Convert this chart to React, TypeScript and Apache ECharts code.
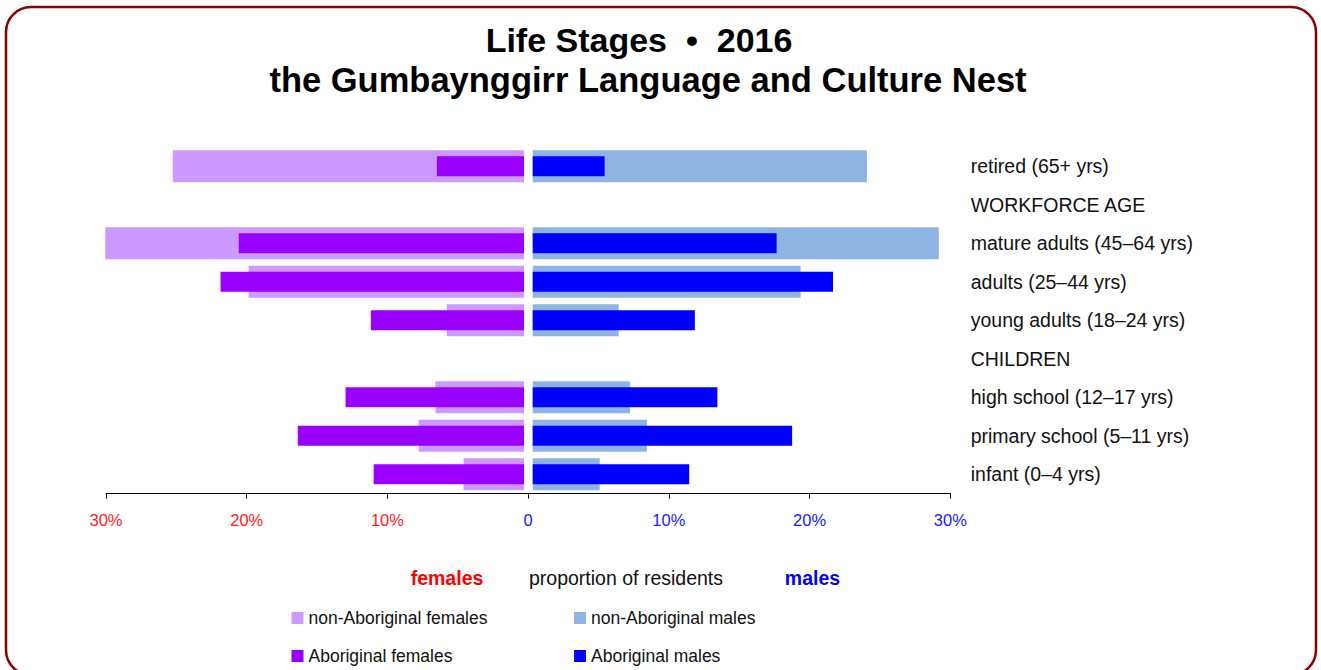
import React, { useEffect, useRef } from "react";
import * as echarts from "echarts";

const categories = [
  "retired (65+ yrs)",
  "WORKFORCE AGE",
  "mature adults (45–64 yrs)",
  "adults (25–44 yrs)",
  "young adults (18–24 yrs)",
  "CHILDREN",
  "high school (12–17 yrs)",
  "primary school (5–11 yrs)",
  "infant (0–4 yrs)",
];
const nonAbFemales = [25.0, null, 29.8, 19.6, 5.5, null, 6.3, 7.5, 4.3];
const abFemales = [6.2, null, 20.3, 21.6, 10.9, null, 12.7, 16.1, 10.7];
const nonAbMales = [23.7, null, 28.8, 19.0, 6.1, null, 6.9, 8.1, 4.75];
const abMales = [5.1, null, 17.3, 21.3, 11.5, null, 13.1, 18.4, 11.1];

const titleLines = ["Life Stages  •  2016", "the Gumbayngg\u200Birr Language and Culture Nest".replace("\u200B", "")];
const axisTitle = ["females", "proportion of residents", "males"];
const seriesNames = ["non-Aboriginal females", "Aboriginal females", "non-Aboriginal males", "Aboriginal males"];

const FONT = "'Liberation Sans', Arial, Helvetica, sans-serif";
const C_NAF = "#cc99ff";
const C_AF = "#9900ff";
const C_NAM = "#8eb4e3";
const C_AM = "#0000ff";

export default function App() {
  const ref = useRef<HTMLDivElement>(null);
  useEffect(() => {
    if (!ref.current) return;
    const chart = echarts.init(ref.current, undefined, { renderer: "svg" });
    const top = 147;
    const height = 346.5;
    const hiddenCat = (gridIndex: number) => ({
      type: "category",
      gridIndex,
      data: categories,
      inverse: true,
      axisLine: { show: false },
      axisTick: { show: false },
      axisLabel: { show: false },
      splitLine: { show: false },
    });
    const legendItem = (name: string, left: number, topPos: number) => ({
      left,
      top: topPos,
      padding: 0,
      orient: "horizontal",
      selectedMode: false,
      itemWidth: 12,
      itemHeight: 12,
      icon: "rect",
      textStyle: { fontSize: 17.5, color: "#111", fontFamily: FONT, lineHeight: 20 },
      data: [name],
    });
    const option: any = {
      animation: false,
      backgroundColor: "#ffffff",
      textStyle: { fontFamily: FONT },
      grid: [
        { left: 102.5, top, width: 421.5, height },
        { left: 532.7, top, width: 423, height },
        { left: 106, top, width: 844.3, height },
      ],
      xAxis: [
        { type: "value", gridIndex: 0, min: 0, max: 30, inverse: true, show: false },
        { type: "value", gridIndex: 1, min: 0, max: 30, show: false },
        {
          type: "value",
          gridIndex: 2,
          min: -30,
          max: 30,
          interval: 10,
          position: "bottom",
          axisLine: { show: true, onZero: false, lineStyle: { color: "#000", width: 1 } },
          axisTick: { show: true, length: 5, lineStyle: { color: "#000" } },
          splitLine: { show: false },
          axisLabel: {
            margin: 18,
            fontSize: 16.5,
            fontFamily: FONT,
            color: (v: any) => (Number(v) < 0 ? "#ff1a1a" : "#1a1aff"),
            formatter: (v: number) => (v === 0 ? "0" : Math.abs(v) + "%"),
          },
        },
      ],
      yAxis: [
        hiddenCat(0),
        hiddenCat(0),
        {
          type: "category",
          gridIndex: 1,
          data: categories,
          inverse: true,
          position: "right",
          axisLine: { show: false },
          axisTick: { show: false },
          splitLine: { show: false },
          axisLabel: {
            show: true,
            margin: 15,
            align: "left",
            fontSize: 19.5,
            color: "#111",
            fontFamily: FONT,
          },
        },
        hiddenCat(1),
        { type: "value", gridIndex: 2, show: false, min: 0, max: 1 },
      ],
      legend: [
        legendItem(seriesNames[0], 291.5, 608),
        legendItem(seriesNames[1], 291.5, 646),
        legendItem(seriesNames[2], 574, 608),
        legendItem(seriesNames[3], 574, 646),
      ],
      series: [
        {
          name: seriesNames[0],
          type: "bar",
          xAxisIndex: 0,
          yAxisIndex: 0,
          barWidth: 32,
          itemStyle: { color: C_NAF },
          data: nonAbFemales,
        },
        {
          name: seriesNames[1],
          type: "bar",
          xAxisIndex: 0,
          yAxisIndex: 1,
          barWidth: 20,
          z: 3,
          itemStyle: { color: C_AF },
          data: abFemales,
        },
        {
          name: seriesNames[2],
          type: "bar",
          xAxisIndex: 1,
          yAxisIndex: 2,
          barWidth: 32,
          itemStyle: { color: C_NAM },
          data: nonAbMales,
        },
        {
          name: seriesNames[3],
          type: "bar",
          xAxisIndex: 1,
          yAxisIndex: 3,
          barWidth: 20,
          z: 3,
          itemStyle: { color: C_AM },
          data: abMales,
        },
      ],
      graphic: [
        {
          type: "rect",
          shape: { x: 6, y: 7, width: 1310, height: 668, r: 25 },
          style: { fill: "none", stroke: "#8b0000", lineWidth: 2.5 },
          z: 10,
        },
        {
          type: "text",
          x: 639,
          y: 40,
          style: {
            text: titleLines[0],
            fontSize: 34,
            fontWeight: "bold",
            fontFamily: FONT,
            fill: "#000",
            align: "center",
            verticalAlign: "middle",
          },
        },
        {
          type: "text",
          x: 648,
          y: 80,
          style: {
            text: titleLines[1],
            fontSize: 34.5,
            fontWeight: "bold",
            fontFamily: FONT,
            fill: "#000",
            align: "center",
            verticalAlign: "middle",
          },
        },
        {
          type: "text",
          x: 447,
          y: 578,
          style: {
            text: axisTitle[0],
            fontSize: 19.5,
            fontWeight: "bold",
            fontFamily: FONT,
            fill: "#ff0000",
            align: "center",
            verticalAlign: "middle",
          },
        },
        {
          type: "text",
          x: 626,
          y: 578,
          style: {
            text: axisTitle[1],
            fontSize: 19.5,
            fontFamily: FONT,
            fill: "#111",
            align: "center",
            verticalAlign: "middle",
          },
        },
        {
          type: "text",
          x: 812.5,
          y: 578,
          style: {
            text: axisTitle[2],
            fontSize: 19.5,
            fontWeight: "bold",
            fontFamily: FONT,
            fill: "#0000ff",
            align: "center",
            verticalAlign: "middle",
          },
        },
      ],
    };
    chart.setOption(option);
    return () => chart.dispose();
  }, []);
  return (
    <div
      ref={ref}
      style={{ position: "fixed", left: 0, top: 0, width: 1321, height: 670, background: "#fff" }}
    />
  );
}
